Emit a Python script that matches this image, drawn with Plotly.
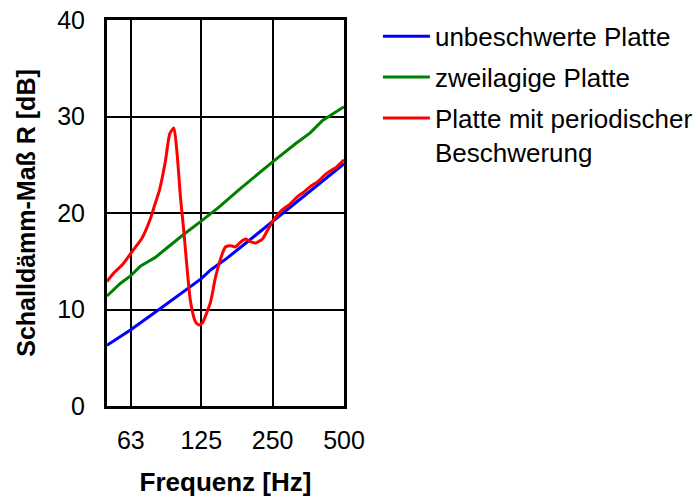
import plotly.graph_objects as go

# --- data ---
f_blue = [50, 63, 84, 112.6, 125, 136.8, 160, 200, 250, 300, 350, 400, 450, 500]
r_blue = [6.3, 7.9, 10.1, 12.4, 13.2, 14.1, 15.3, 17.2, 19.1, 20.7, 22.0, 23.2, 24.2, 25.1]

f_green = [50, 56.9, 63, 69.1, 75, 80, 89.7, 105.5, 124.1, 148.4, 180, 220, 250, 313, 360, 406, 450, 500]
r_green = [11.4, 12.7, 13.5, 14.5, 15.0, 15.4, 16.4, 17.8, 19.1, 20.6, 22.4, 24.2, 25.3, 27.2, 28.3, 29.6, 30.3, 31.0]

f_red = [50, 53.5, 57.9, 63.8, 70.3, 76.2, 78.7, 83.3, 88.1, 92.0, 95.7, 98.9, 102.2, 105.5,
         109.2, 112.6, 118.2, 122.1, 126.2, 132.4, 136.8, 143.7, 153.4, 158.4, 166.2, 174.6,
         183.3, 192.4, 202.2, 212.2, 226.4, 237.7, 249.6, 270.8, 295, 318.4, 340, 362.6, 390,
         413, 440.6, 462, 500]
r_red = [12.9, 13.8, 14.6, 16.0, 17.4, 19.4, 20.5, 22.4, 25.3, 28.2, 28.8, 26.0, 21.5, 18.1,
         13.9, 10.8, 8.7, 8.4, 8.6, 9.8, 10.8, 13.4, 15.8, 16.5, 16.6, 16.5,
         17.0, 17.3, 17.0, 16.9, 17.3, 18.2, 19.1, 20.2, 20.9, 21.7, 22.2, 22.8, 23.3,
         23.9, 24.4, 24.7, 25.5]

names = ["unbeschwerte Platte", "zweilagige Platte", "Platte mit periodischer<br>Beschwerung"]
x_ticks = [63, 125, 250, 500]
x_ticklabels = ["63", "125", "250", "500"]
y_ticks = [0, 10, 20, 30, 40]

FONT = "Liberation Sans, Arial, sans-serif"

fig = go.Figure()
fig.add_trace(go.Scatter(x=f_blue, y=r_blue, mode="lines", name=names[0],
                         line=dict(color="#0000FF", width=3), legendgroup="a"))
fig.add_trace(go.Scatter(x=f_green, y=r_green, mode="lines", name=names[1],
                         line=dict(color="#008000", width=3), legendgroup="b"))
fig.add_trace(go.Scatter(x=f_red, y=r_red, mode="lines", name=names[2],
                         line=dict(color="#FF0000", width=3, shape="spline", smoothing=0.6),
                         legendgroup="c"))

fig.update_layout(
    width=696, height=497,
    margin=dict(l=107, r=352, t=20, b=91, autoexpand=False),
    paper_bgcolor="white", plot_bgcolor="white",
    font=dict(family=FONT, size=25, color="black"),
    showlegend=True,
    legend=dict(xref="container", yref="container", x=0.543, y=0.974,
                xanchor="left", yanchor="top", valign="top",
                font=dict(size=26), itemwidth=47, tracegroupgap=4,
                traceorder="grouped", bgcolor="rgba(0,0,0,0)"),
)
fig.update_xaxes(type="log", range=[1.69897, 2.69897],
                 tickvals=x_ticks, ticktext=x_ticklabels,
                 showgrid=True, gridcolor="black", gridwidth=1.5,
                 showline=True, linecolor="black", linewidth=3, mirror=True,
                 ticks="", ticklabelstandoff=10, ticklabeloverflow="allow",
                 zeroline=False, automargin=False,
                 title=dict(text="<b>Frequenz [Hz]</b>", font=dict(size=26), standoff=29))
fig.update_yaxes(range=[0, 40], tickvals=y_ticks,
                 showgrid=True, gridcolor="black", gridwidth=1.5,
                 showline=True, linecolor="black", linewidth=3, mirror=True,
                 ticks="", ticklabelstandoff=14, ticklabeloverflow="allow",
                 zeroline=False, automargin=False,
                 title=dict(text="<b>Schalldämm-Maß R [dB]</b>", font=dict(size=25)))

# remove the browser's default 8px body margin so the figure fills the window exactly
fig.write_html("out.html", config={"displayModeBar": False},
               post_script="document.body.style.margin='0';")
